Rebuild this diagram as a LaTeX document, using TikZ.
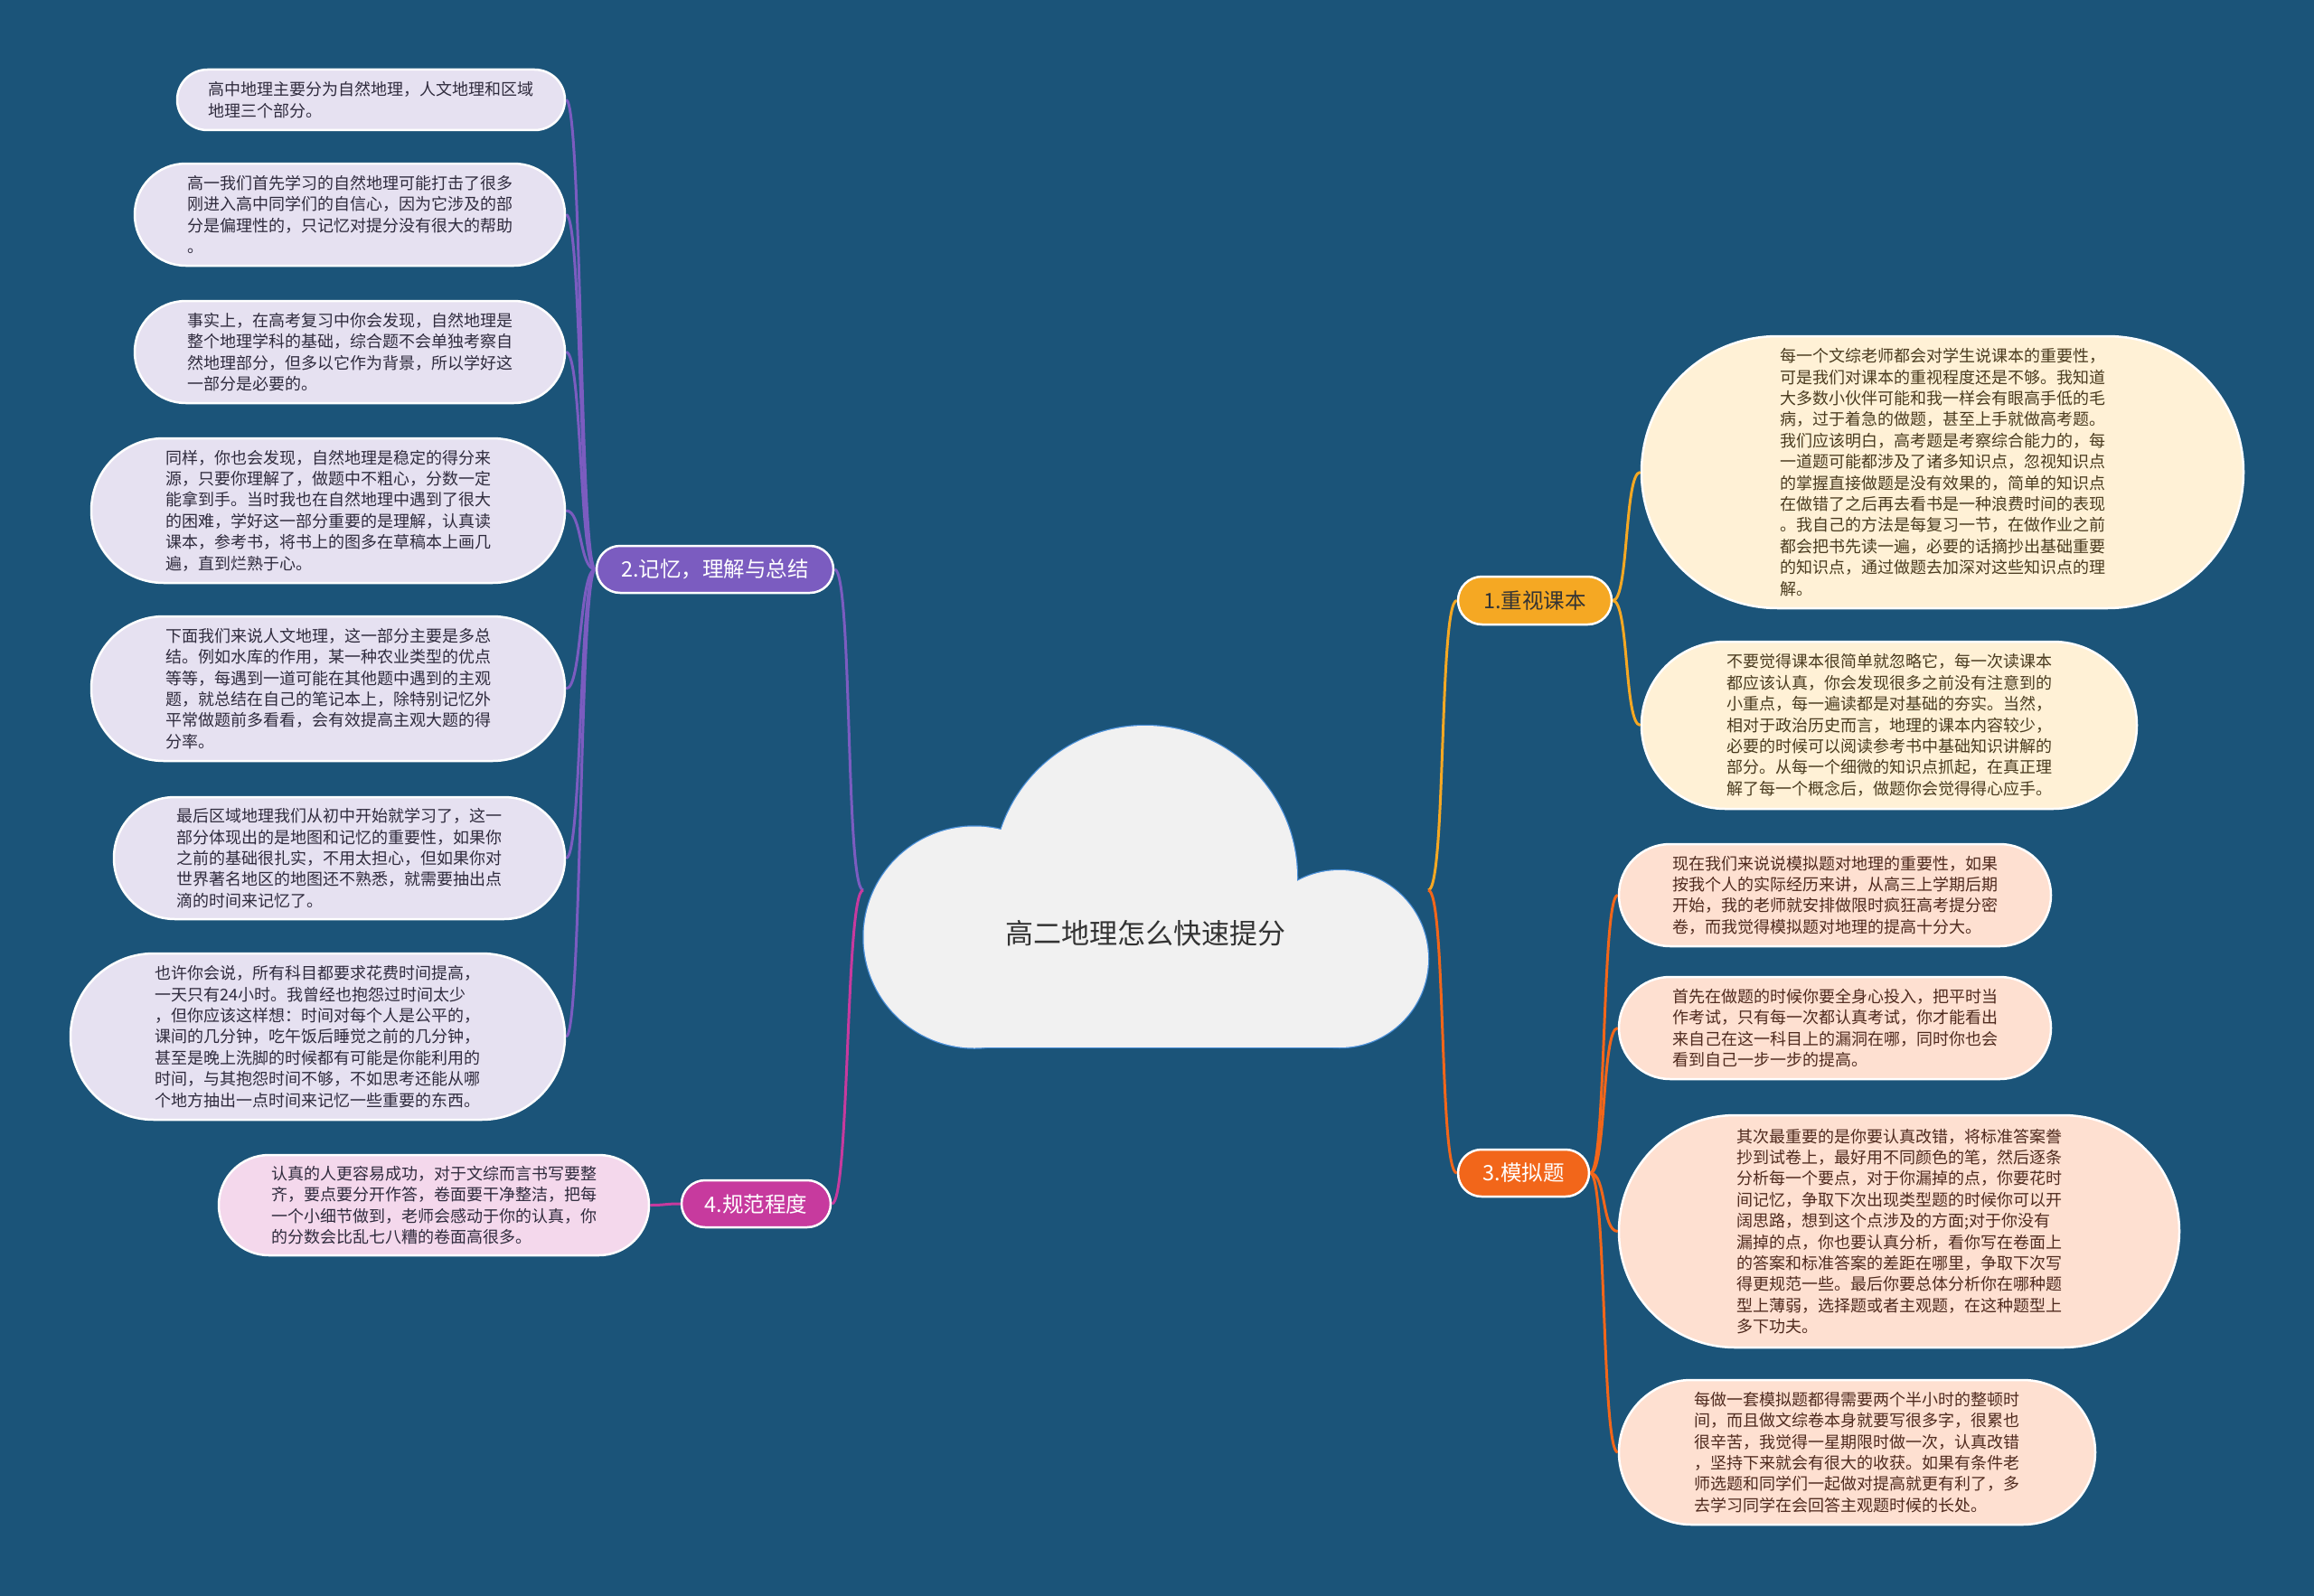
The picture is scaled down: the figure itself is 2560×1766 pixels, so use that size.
\documentclass[tikz,border=0pt]{standalone}
\usepackage{fontspec}
\setmainfont{Noto Sans CJK SC}
\definecolor{bgc}{HTML}{1B5479}
\definecolor{lavF}{HTML}{E6E1F1}
\definecolor{lavT}{HTML}{2F2B3D}
\definecolor{pinkF}{HTML}{F4D8EC}
\definecolor{creamF}{HTML}{FFF1D6}
\definecolor{creamT}{HTML}{4A3B1F}
\definecolor{peachF}{HTML}{FEE0D1}
\definecolor{peachT}{HTML}{4F2A1E}
\definecolor{purpC}{HTML}{7B5CC0}
\definecolor{magC}{HTML}{C73A9E}
\definecolor{ambC}{HTML}{F5A823}
\definecolor{oraC}{HTML}{F2661A}
\definecolor{cloudF}{HTML}{F1F1F1}
\definecolor{cloudD}{HTML}{4A8FD8}
\pgfdeclarelayer{bg}
\pgfsetlayers{bg,main}
\begin{document}
\begin{tikzpicture}[x=1pt,y=-1pt,
  leaf/.style={draw=white, line width=2.5pt, align=left, inner sep=0pt, font=\fontsize{18}{23.4}\selectfont},
  sz/.style n args={2}{minimum width=#1, minimum height=#2, rounded corners=#2*0.5},
  lav/.style={leaf, fill=lavF, text=lavT},
  pinkleaf/.style={leaf, fill=pinkF, text=lavT},
  cream/.style={leaf, fill=creamF, text=creamT},
  peach/.style={leaf, fill=peachF, text=peachT},
  br/.style={draw=white, line width=2.5pt, inner sep=0pt, font=\fontsize{23.5}{28}\selectfont},
  con/.style={line width=3pt},
]
\useasboundingbox (0,0) rectangle (2560,1766);

% cloud
\coordinate (cL) at (955,985);
\coordinate (cR) at (1580,985);
\draw[cloudD, line width=2.5pt] (1078,1037) circle (122.5);
\draw[cloudD, line width=2.5pt] (1267,971) circle (168);
\draw[cloudD, line width=2.5pt] (1482,1061) circle (98);
\draw[cloudD, line width=2.5pt] (1078,980) rectangle (1482,1159);
\fill[cloudF] (1078,1037) circle (122.5);
\fill[cloudF] (1267,971) circle (168);
\fill[cloudF] (1482,1061) circle (98);
\fill[cloudF] (1078,980) rectangle (1482,1159);
\node[font=\fontsize{31}{36}\selectfont, text=black!80] (root) at (1267,1033) {高二地理怎么快速提分};

% branches
\node[br, fill=purpC, text=white, sz={262}{52}] (b2) at (791,630) {2.记忆，理解与总结};
\node[br, fill=magC, text=white, sz={165}{52}] (b4) at (836.5,1332) {4.规范程度};
\node[br, fill=ambC, text=black!80, sz={170}{53}] (b1) at (1698,664.5) {1.重视课本};
\node[br, fill=oraC, text=white, sz={145}{52}] (b3) at (1685.5,1298) {3.模拟题};

% left leaves
\node[lav, sz={429}{67}] (l1) at (410.5,110.5) {高中地理主要分为自然地理，人文地理和区域\\地理三个部分。};
\node[lav, sz={476}{113}] (l2) at (387,237.5) {高一我们首先学习的自然地理可能打击了很多\\刚进入高中同学们的自信心，因为它涉及的部\\分是偏理性的，只记忆对提分没有很大的帮助\\。};
\node[lav, sz={476}{113}] (l3) at (387,389.5) {事实上，在高考复习中你会发现，自然地理是\\整个地理学科的基础，综合题不会单独考察自\\然地理部分，但多以它作为背景，所以学好这\\一部分是必要的。};
\node[lav, sz={524}{160}] (l4) at (363,565) {同样，你也会发现，自然地理是稳定的得分来\\源，只要你理解了，做题中不粗心，分数一定\\能拿到手。当时我也在自然地理中遇到了很大\\的困难，学好这一部分重要的是理解，认真读\\课本，参考书，将书上的图多在草稿本上画几\\遍，直到烂熟于心。};
\node[lav, sz={524}{160}] (l5) at (363,762) {下面我们来说人文地理，这一部分主要是多总\\结。例如水库的作用，某一种农业类型的优点\\等等，每遇到一道可能在其他题中遇到的主观\\题，就总结在自己的笔记本上，除特别记忆外\\平常做题前多看看，会有效提高主观大题的得\\分率。};
\node[lav, sz={499}{135}] (l6) at (375.5,949.5) {最后区域地理我们从初中开始就学习了，这一\\部分体现出的是地图和记忆的重要性，如果你\\之前的基础很扎实，不用太担心，但如果你对\\世界著名地区的地图还不熟悉，就需要抽出点\\滴的时间来记忆了。};
\node[lav, sz={547}{184}] (l7) at (351.5,1147) {也许你会说，所有科目都要求花费时间提高，\\一天只有24小时。我曾经也抱怨过时间太少\\，但你应该这样想：时间对每个人是公平的，\\课间的几分钟，吃午饭后睡觉之前的几分钟，\\甚至是晚上洗脚的时候都有可能是你能利用的\\时间，与其抱怨时间不够，不如思考还能从哪\\个地方抽出一点时间来记忆一些重要的东西。};
\node[pinkleaf, sz={476}{111}] (l8) at (480,1333.5) {认真的人更容易成功，对于文综而言书写要整\\齐，要点要分开作答，卷面要干净整洁，把每\\一个小细节做到，老师会感动于你的认真，你\\的分数会比乱七八糟的卷面高很多。};

% right leaves
\node[cream, sz={666}{301}] (r1) at (2149,522.5) {每一个文综老师都会对学生说课本的重要性，\\可是我们对课本的重视程度还是不够。我知道\\大多数小伙伴可能和我一样会有眼高手低的毛\\病，过于着急的做题，甚至上手就做高考题。\\我们应该明白，高考题是考察综合能力的，每\\一道题可能都涉及了诸多知识点，忽视知识点\\的掌握直接做题是没有效果的，简单的知识点\\在做错了之后再去看书是一种浪费时间的表现\\。我自己的方法是每复习一节，在做作业之前\\都会把书先读一遍，必要的话摘抄出基础重要\\的知识点，通过做题去加深对这些知识点的理\\解。};
\node[cream, sz={548}{185}] (r2) at (2090,802.5) {不要觉得课本很简单就忽略它，每一次读课本\\都应该认真，你会发现很多之前没有注意到的\\小重点，每一遍读都是对基础的夯实。当然，\\相对于政治历史而言，地理的课本内容较少，\\必要的时候可以阅读参考书中基础知识讲解的\\部分。从每一个细微的知识点抓起，在真正理\\解了每一个概念后，做题你会觉得得心应手。};
\node[peach, sz={478}{113}] (r3) at (2030,990.5) {现在我们来说说模拟题对地理的重要性，如果\\按我个人的实际经历来讲，从高三上学期后期\\开始，我的老师就安排做限时疯狂高考提分密\\卷，而我觉得模拟题对地理的提高十分大。};
\node[peach, sz={478}{113}] (r4) at (2030,1137.5) {首先在做题的时候你要全身心投入，把平时当\\作考试，只有每一次都认真考试，你才能看出\\来自己在这一科目上的漏洞在哪，同时你也会\\看到自己一步一步的提高。};
\node[peach, sz={620}{257}] (r5) at (2101,1362.5) {其次最重要的是你要认真改错，将标准答案誊\\抄到试卷上，最好用不同颜色的笔，然后逐条\\分析每一个要点，对于你漏掉的点，你要花时\\间记忆，争取下次出现类型题的时候你可以开\\阔思路，想到这个点涉及的方面;对于你没有\\漏掉的点，你也要认真分析，看你写在卷面上\\的答案和标准答案的差距在哪里，争取下次写\\得更规范一些。最后你要总体分析你在哪种题\\型上薄弱，选择题或者主观题，在这种题型上\\多下功夫。};
\node[peach, sz={527}{160}] (r6) at (2054.5,1607) {每做一套模拟题都得需要两个半小时的整顿时\\间，而且做文综卷本身就要写很多字，很累也\\很辛苦，我觉得一星期限时做一次，认真改错\\，坚持下来就会有很大的收获。如果有条件老\\师选题和同学们一起做对提高就更有利了，多\\去学习同学在会回答主观题时候的长处。};

\begin{pgfonlayer}{bg}
\fill[bgc] (0,0) rectangle (2560,1766);
% root to branches
\draw[con, purpC] (cL) .. controls +(-20,0) and +(20,0) .. (b2.east);
\draw[con, magC] (cL) .. controls +(-20,0) and +(20,0) .. (b4.east);
\draw[con, ambC] (cR) .. controls +(20,0) and +(-20,0) .. (b1.west);
\draw[con, oraC] (cR) .. controls +(20,0) and +(-20,0) .. (b3.west);
% branch 2
\foreach \n in {l1,l2,l3,l4,l5,l6,l7}
  \draw[con, purpC] (b2.west) .. controls +(-18,0) and +(18,0) .. (\n.east);
\draw[con, magC] (b4.west) .. controls +(-18,0) and +(18,0) .. (l8.east);
\foreach \n in {r1,r2}
  \draw[con, ambC] (b1.east) .. controls +(18,0) and +(-18,0) .. (\n.west);
\foreach \n in {r3,r4,r5,r6}
  \draw[con, oraC] (b3.east) .. controls +(18,0) and +(-18,0) .. (\n.west);
\end{pgfonlayer}
\end{tikzpicture}
\end{document}
